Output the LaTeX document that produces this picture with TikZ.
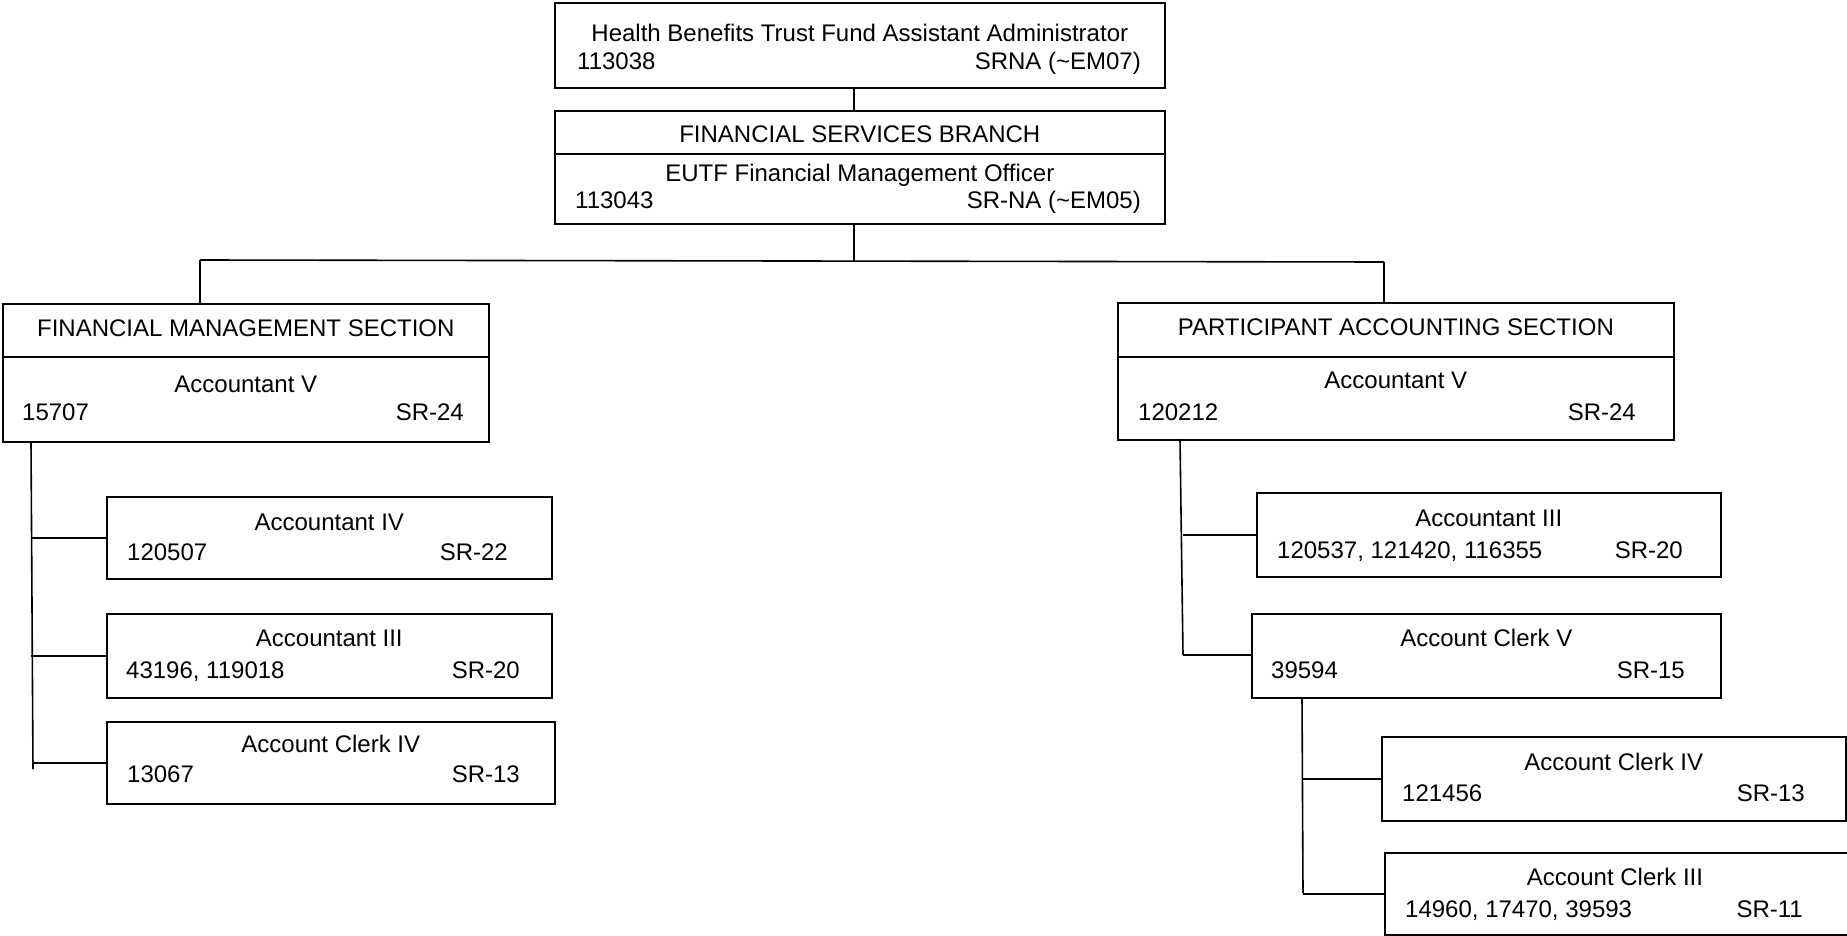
\documentclass[tikz,border=0pt]{standalone}
\usepackage{fontspec}
\setmainfont{Liberation Sans}
\newcommand\myfs{\fontsize{24}{28}\selectfont}
\begin{document}
\begin{tikzpicture}[x=1pt,y=-1pt,
  box/.style={draw, line width=1.6pt, inner sep=0pt, anchor=north west},
  txt/.style={inner sep=0pt, font=\myfs},
  ln/.style={line width=1.6pt}]
\useasboundingbox (0,0) rectangle (1847,936);
% ---------- boxes ----------
\node[box, minimum width=610pt, minimum height=85pt] (top) at (554,2) {};
\node[box, minimum width=610pt, minimum height=43pt] (fsbT) at (554,110) {};
\node[box, minimum width=610pt, minimum height=70pt] (fsbB) at (554,153) {};
\node[box, minimum width=486pt, minimum height=53pt] (fmsT) at (2,303) {};
\node[box, minimum width=486pt, minimum height=85pt] (fmsB) at (2,356) {};
\node[box, minimum width=445pt, minimum height=82pt] (a4L) at (106,496) {};
\node[box, minimum width=445pt, minimum height=84pt] (a3L) at (106,613) {};
\node[box, minimum width=448pt, minimum height=82pt] (c4L) at (106,721) {};
\node[box, minimum width=556pt, minimum height=54pt] (pasT) at (1117,302) {};
\node[box, minimum width=556pt, minimum height=83pt] (pasB) at (1117,356) {};
\node[box, minimum width=464pt, minimum height=84pt] (a3R) at (1256,492) {};
\node[box, minimum width=469pt, minimum height=84pt] (c5R) at (1251,613) {};
\node[box, minimum width=464pt, minimum height=84pt] (c4R) at (1381,736) {};
\node[box, minimum width=470pt, minimum height=82pt] (c3R) at (1384,852) {};
% ---------- texts ----------
\node[txt, anchor=base] (t1) at (top.north |- 0,42) {Health Benefits Trust Fund Assistant Administrator};
\node[txt, anchor=base west] (t2) at (577,70) {113038};
\node[txt, anchor=base east] (t3) at (1141,70) {SRNA (\textasciitilde EM07)};
\node[txt, anchor=base] (t4) at (fsbT.north |- 0,143) {FINANCIAL SERVICES BRANCH};
\node[txt, anchor=base] (t5) at (fsbB.north |- 0,182) {EUTF Financial Management Officer};
\node[txt, anchor=base west] (t6) at (575,209) {113043};
\node[txt, anchor=base east] (t7) at (1141,209) {SR-NA (\textasciitilde EM05)};
\node[txt, anchor=base] (t8) at (fmsT.north |- 0,336) {FINANCIAL MANAGEMENT SECTION};
\node[txt, anchor=base] (t9) at (fmsB.north |- 0,392) {Accountant V};
\node[txt, anchor=base west] (t10) at (22,420) {15707};
\node[txt, anchor=base east] (t11) at (464,420) {SR-24};
\node[txt, anchor=base] (t12) at (a4L.north |- 0,530) {Accountant IV};
\node[txt, anchor=base west] (t13) at (127,560) {120507};
\node[txt, anchor=base east] (t14) at (508,560) {SR-22};
\node[txt, anchor=base] (t15) at (a3L.north |- 0,646) {Accountant III};
\node[txt, anchor=base west] (t16) at (126,678) {43196, 119018};
\node[txt, anchor=base east] (t17) at (520,678) {SR-20};
\node[txt, anchor=base] (t18) at (c4L.north |- 0,752) {Account Clerk IV};
\node[txt, anchor=base west] (t19) at (127,782) {13067};
\node[txt, anchor=base east] (t20) at (520,782) {SR-13};
\node[txt, anchor=base] (t21) at (pasT.north |- 0,335) {PARTICIPANT ACCOUNTING SECTION};
\node[txt, anchor=base] (t22) at (pasB.north |- 0,388) {Accountant V};
\node[txt, anchor=base west] (t23) at (1138,420) {120212};
\node[txt, anchor=base east] (t24) at (1636,420) {SR-24};
\node[txt, anchor=base] (t25) at (a3R.north |- 0,526) {Accountant III};
\node[txt, anchor=base west] (t26) at (1277,558) {120537, 121420, 116355};
\node[txt, anchor=base east] (t27) at (1683,558) {SR-20};
\node[txt, anchor=base] (t28) at (c5R.north |- 0,646) {Account Clerk V};
\node[txt, anchor=base west] (t29) at (1271,678) {39594};
\node[txt, anchor=base east] (t30) at (1685,678) {SR-15};
\node[txt, anchor=base] (t31) at (c4R.north |- 0,770) {Account Clerk IV};
\node[txt, anchor=base west] (t32) at (1402,801) {121456};
\node[txt, anchor=base east] (t33) at (1805,801) {SR-13};
\node[txt, anchor=base] (t34) at (1615,885) {Account Clerk III};
\node[txt, anchor=base west] (t35) at (1405,917) {14960, 17470, 39593};
\node[txt, anchor=base east] (t36) at (1803,917) {SR-11};
% ---------- coordinates ----------
\coordinate (busL) at (200,260);
\coordinate (busR) at (1384,262);
\coordinate (busM) at (854,261);
\coordinate (lvT) at (31,441);
\coordinate (lvB) at (33,769);
\coordinate (rvT) at (1180,439);
\coordinate (rvB) at (1183,655);
\coordinate (svT) at (1302,697);
\coordinate (svB) at (1303,893);
% ---------- connectors ----------
\draw[ln] (top.south -| 854,0) -- (fsbT.north -| 854,0);
\draw[ln] (fsbB.south -| 854,0) -- (busM);
\draw[ln] (busL) -- (busR);
\draw[ln] (busL) -- (busL |- fmsT.north);
\draw[ln] (busR) -- (busR |- pasT.north);
\draw[ln] (lvT) -- (lvB);
\draw[ln] (lvT |- a4L.west) -- (a4L.west);
\draw[ln] (lvT |- a3L.west) -- (a3L.west);
\draw[ln] (lvB |- c4L.west) -- (c4L.west);
\draw[ln] (rvT) -- (rvB);
\draw[ln] ([xshift=3pt]rvT |- a3R.west) -- (a3R.west);
\draw[ln] (rvB) -- (rvB -| c5R.west);
\draw[ln] (svT) -- (svB);
\draw[ln] (svT |- c4R.west) -- (c4R.west);
\draw[ln] (svB |- c3R.west) -- (c3R.west);
\end{tikzpicture}
\end{document}
